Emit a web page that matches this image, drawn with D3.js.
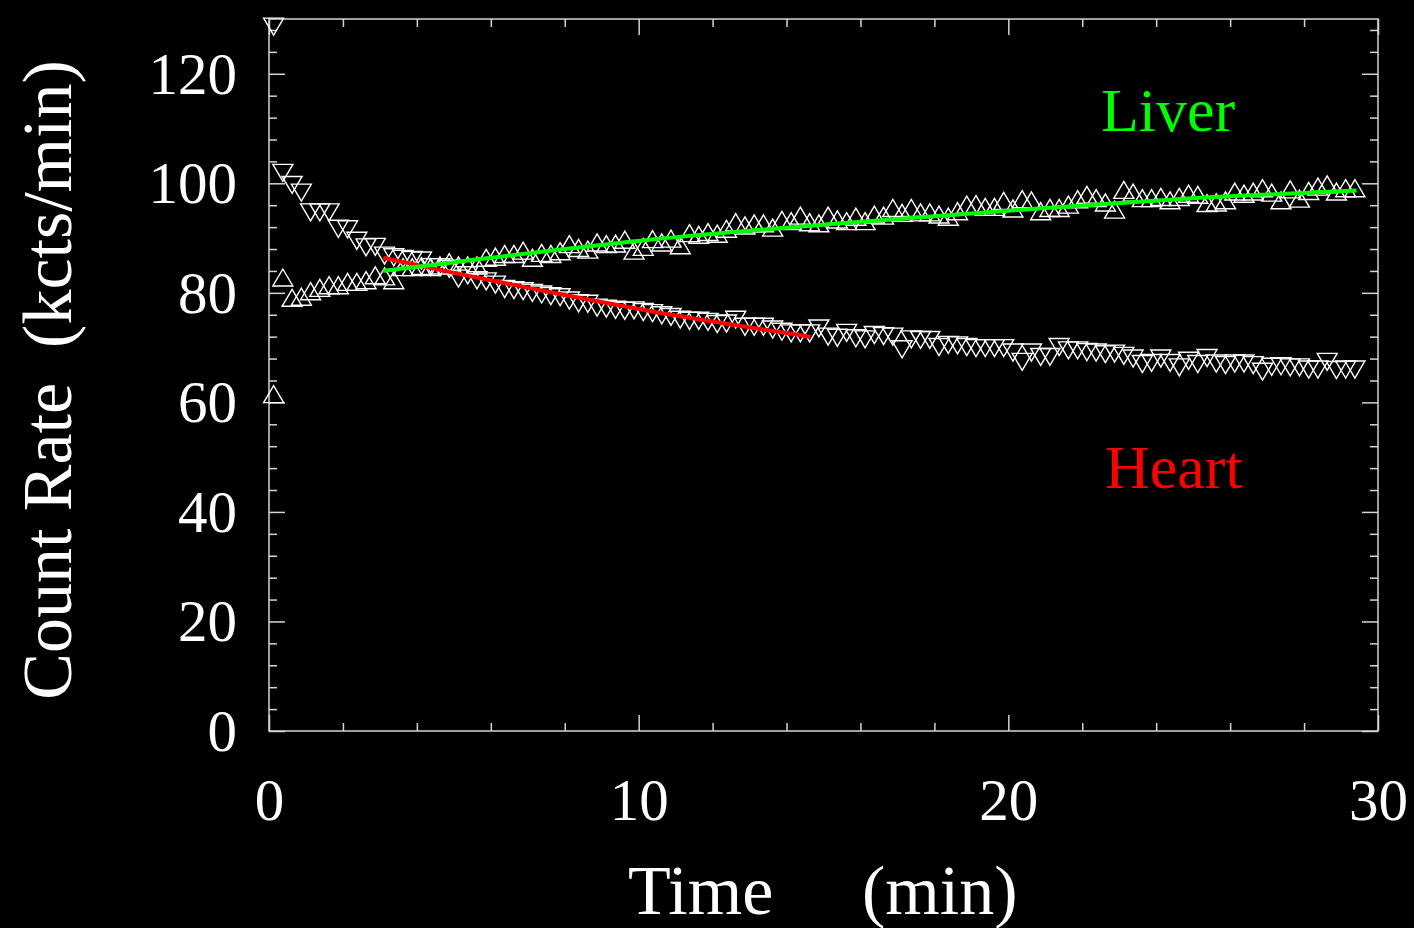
<!DOCTYPE html>
<html>
<head>
<meta charset="utf-8">
<script src="https://cdn.jsdelivr.net/npm/d3@7"></script>
<style>
  html, body { margin: 0; padding: 0; background: #000; }
  svg { display: block; }
  text { font-family: "Liberation Serif", "Times New Roman", serif; fill: #fff; }
</style>
</head>
<body>
<div id="chart"></div>
<script>
// sample times (min), one frame every 15 s
const times = [
  0.125, 0.375, 0.625, 0.875, 1.125, 1.375, 1.625, 1.875, 2.125, 2.375,
  2.625, 2.875, 3.125, 3.375, 3.625, 3.875, 4.125, 4.375, 4.625, 4.875,
  5.125, 5.375, 5.625, 5.875, 6.125, 6.375, 6.625, 6.875, 7.125, 7.375,
  7.625, 7.875, 8.125, 8.375, 8.625, 8.875, 9.125, 9.375, 9.625, 9.875,
  10.125, 10.375, 10.625, 10.875, 11.125, 11.375, 11.625, 11.875, 12.125, 12.375,
  12.625, 12.875, 13.125, 13.375, 13.625, 13.875, 14.125, 14.375, 14.625, 14.875,
  15.125, 15.375, 15.625, 15.875, 16.125, 16.375, 16.625, 16.875, 17.125, 17.375,
  17.625, 17.875, 18.125, 18.375, 18.625, 18.875, 19.125, 19.375, 19.625, 19.875,
  20.125, 20.375, 20.625, 20.875, 21.125, 21.375, 21.625, 21.875, 22.125, 22.375,
  22.625, 22.875, 23.125, 23.375, 23.625, 23.875, 24.125, 24.375, 24.625, 24.875,
  25.125, 25.375, 25.625, 25.875, 26.125, 26.375, 26.625, 26.875, 27.125, 27.375,
  27.625, 27.875, 28.125, 28.375, 28.625, 28.875, 29.125, 29.375
];

// liver counts (kcts/min), up triangles
const liver = [
  61.5, 82.8, 79.1, 79.3, 80.3, 80.9, 81.4, 81.4, 82.0, 82.0,
  82.3, 83.2, 83.0, 82.3, 84.7, 84.7, 84.9, 84.7, 85.0, 85.6,
  85.0, 85.0, 85.0, 86.4, 86.6, 87.1, 87.1, 87.7, 86.4, 87.3,
  87.1, 87.6, 88.9, 88.2, 87.9, 89.2, 88.9, 89.0, 89.7, 87.7,
  88.4, 89.8, 89.2, 89.9, 88.7, 90.9, 90.6, 91.1, 90.8, 91.7,
  92.9, 92.3, 92.7, 92.7, 91.9, 93.3, 93.1, 94.1, 92.9, 92.7,
  94.1, 93.4, 93.1, 93.9, 93.1, 94.3, 94.1, 95.5, 94.6, 95.5,
  94.7, 94.7, 94.3, 93.9, 94.9, 96.1, 96.2, 95.7, 95.7, 96.8,
  95.4, 97.1, 96.9, 94.9, 95.5, 95.5, 96.1, 97.1, 97.9, 97.3,
  96.5, 95.2, 98.8, 98.3, 97.3, 97.3, 97.5, 96.9, 97.5, 98.1,
  97.9, 96.4, 96.5, 96.9, 98.5, 98.1, 98.5, 99.1, 98.3, 96.9,
  98.9, 97.2, 98.6, 99.4, 99.8, 98.5, 99.1, 99.1
];

// heart counts (kcts/min), down triangles
const heart = [
  128.6, 101.9, 99.7, 98.3, 94.7, 94.7, 94.7, 91.7, 91.6, 89.5,
  88.3, 88.4, 86.8, 86.5, 86.2, 86.0, 85.9, 84.7, 84.7, 84.4,
  82.6, 83.2, 82.3, 82.1, 81.5, 80.7, 80.5, 80.3, 80.0, 79.7,
  79.4, 79.2, 78.6, 78.1, 78.0, 77.3, 77.1, 76.9, 76.7, 76.8,
  76.5, 76.3, 75.9, 75.6, 75.1, 74.9, 74.9, 74.7, 74.3, 74.4,
  75.1, 73.8, 73.8, 73.8, 73.3, 72.9, 72.6, 72.6, 72.6, 73.5,
  72.0, 71.8, 72.7, 71.7, 71.5, 72.3, 72.1, 72.0, 69.7, 71.5,
  71.4, 71.4, 70.1, 70.5, 70.4, 70.1, 69.9, 69.9, 69.9, 69.9,
  69.1, 67.4, 69.1, 68.3, 68.3, 70.1, 69.5, 69.5, 69.2, 69.1,
  68.8, 68.9, 68.5, 68.0, 67.0, 67.2, 68.0, 67.2, 66.4, 67.6,
  67.0, 68.1, 67.1, 66.8, 67.1, 67.1, 66.8, 65.6, 66.5, 66.6,
  66.4, 66.4, 66.0, 66.0, 67.4, 65.9, 66.0, 66.0
];

// fitted curves
const liverFitT = [3.09, 5.03, 10.17, 15.31, 20.45, 25.59, 29.42];
const liverFitV = [84.0, 85.6, 89.6, 92.6, 95.2, 97.5, 98.7];
const heartFitT = [3.09, 5.03, 7.33, 10.3, 14.65];
const heartFitV = [86.4, 83.6, 80.5, 76.7, 72.0];

const xMajor = [0, 10, 20, 30];
const yMajor = [0, 20, 40, 60, 80, 100, 120];

const width = 1414, height = 928;
const margin = { top: 19, right: 36, bottom: 197, left: 269 };
const innerW = width - margin.left - margin.right;
const innerH = height - margin.top - margin.bottom;

const svg = d3.select('#chart').append('svg')
    .attr('width', width)
    .attr('height', height)
    .style('background', '#000');

const g = svg.append('g')
    .attr('transform', `translate(${margin.left},${margin.top})`);

const x = d3.scaleLinear().domain([0, 30]).range([0, innerW]);
const y = d3.scaleLinear().domain([0, 130]).range([innerH, 0]);

const axisColor = '#d4d4d4';
const tickFont = 59;

// minor ticks (no labels) on all four sides
const xMinor = d3.range(0, 30.001, 2).filter(v => v % 10 !== 0);
const yMinor = d3.range(0, 130.001, 4).filter(v => v % 20 !== 0);

function styleAxis(sel) {
  sel.select('.domain').remove();
  sel.selectAll('line').attr('stroke', axisColor).attr('stroke-width', 1.5);
}

g.append('g').attr('transform', `translate(0,${innerH})`)
    .call(d3.axisBottom(x).tickValues(xMinor).tickSize(-8).tickFormat(''))
    .call(styleAxis);
g.append('g')
    .call(d3.axisTop(x).tickValues(xMinor).tickSize(-8).tickFormat(''))
    .call(styleAxis);
g.append('g')
    .call(d3.axisLeft(y).tickValues(yMinor).tickSize(-8).tickFormat(''))
    .call(styleAxis);
g.append('g').attr('transform', `translate(${innerW},0)`)
    .call(d3.axisRight(y).tickValues(yMinor).tickSize(-8).tickFormat(''))
    .call(styleAxis);

// major ticks
const xAxis = g.append('g').attr('transform', `translate(0,${innerH})`)
    .call(d3.axisBottom(x).tickValues(xMajor).tickSize(-16).tickFormat(d3.format('d')))
    .call(styleAxis);
xAxis.selectAll('text')
    .attr('y', 89)
    .attr('dy', null)
    .attr('fill', '#fff')
    .style('font-size', `${tickFont}px`)
    .style('font-family', '"Liberation Serif", "Times New Roman", serif');

g.append('g')
    .call(d3.axisTop(x).tickValues(xMajor).tickSize(-16).tickFormat(''))
    .call(styleAxis);

const yAxis = g.append('g')
    .call(d3.axisLeft(y).tickValues(yMajor).tickSize(-16).tickPadding(32).tickFormat(d3.format('d')))
    .call(styleAxis);
yAxis.selectAll('text')
    .attr('dy', '0.33em')
    .attr('fill', '#fff')
    .style('font-size', `${tickFont}px`)
    .style('font-family', '"Liberation Serif", "Times New Roman", serif');

g.append('g').attr('transform', `translate(${innerW},0)`)
    .call(d3.axisRight(y).tickValues(yMajor).tickSize(-16).tickFormat(''))
    .call(styleAxis);

// frame
g.append('rect')
    .attr('width', innerW)
    .attr('height', innerH)
    .attr('fill', 'none')
    .attr('stroke', axisColor)
    .attr('stroke-width', 1.5);

// triangle markers (box-centred like the original plot symbols)
const triUp = {
  draw(ctx) {
    ctx.moveTo(-10, 8.5); ctx.lineTo(10, 8.5); ctx.lineTo(0, -8.5); ctx.closePath();
  }
};
const triDown = {
  draw(ctx) {
    ctx.moveTo(-10, -8.5); ctx.lineTo(10, -8.5); ctx.lineTo(0, 8.5); ctx.closePath();
  }
};

const heartPts = times.map((t, i) => ({ t, v: heart[i] }));
const liverPts = times.map((t, i) => ({ t, v: liver[i] }));

g.append('g').selectAll('path')
    .data(heartPts)
  .enter().append('path')
    .attr('d', d3.symbol().type(triDown))
    .attr('transform', d => `translate(${x(d.t)},${y(d.v)})`)
    .attr('fill', 'none')
    .attr('stroke', '#fff')
    .attr('stroke-width', 1.4);

g.append('g').selectAll('path')
    .data(liverPts)
  .enter().append('path')
    .attr('d', d3.symbol().type(triUp))
    .attr('transform', d => `translate(${x(d.t)},${y(d.v)})`)
    .attr('fill', 'none')
    .attr('stroke', '#fff')
    .attr('stroke-width', 1.4);

// fit curves
const fitLine = d3.line()
    .x(d => x(d[0]))
    .y(d => y(d[1]))
    .curve(d3.curveMonotoneX);

g.append('path')
    .attr('d', fitLine(heartFitT.map((t, i) => [t, heartFitV[i]])))
    .attr('fill', 'none')
    .attr('stroke', '#ff0000')
    .attr('stroke-width', 4);

g.append('path')
    .attr('d', fitLine(liverFitT.map((t, i) => [t, liverFitV[i]])))
    .attr('fill', 'none')
    .attr('stroke', '#00ff00')
    .attr('stroke-width', 4);

// series labels
svg.append('text')
    .attr('x', 1101).attr('y', 131)
    .style('font-size', '62px')
    .style('fill', '#00ff00')
    .text('Liver');

svg.append('text')
    .attr('x', 1105).attr('y', 488)
    .style('font-size', '62px')
    .style('fill', '#ff0000')
    .text('Heart');

// axis titles
svg.append('text')
    .attr('x', 628).attr('y', 914)
    .style('font-size', '70px')
    .text('Time');
svg.append('text')
    .attr('x', 862).attr('y', 914)
    .style('font-size', '70px')
    .text('(min)');

svg.append('text')
    .attr('transform', 'translate(71,380) rotate(-90)')
    .attr('text-anchor', 'middle')
    .style('font-size', '70px')
    .style('white-space', 'pre')
    .text('Count Rate  (kcts/min)');
</script>
</body>
</html>
